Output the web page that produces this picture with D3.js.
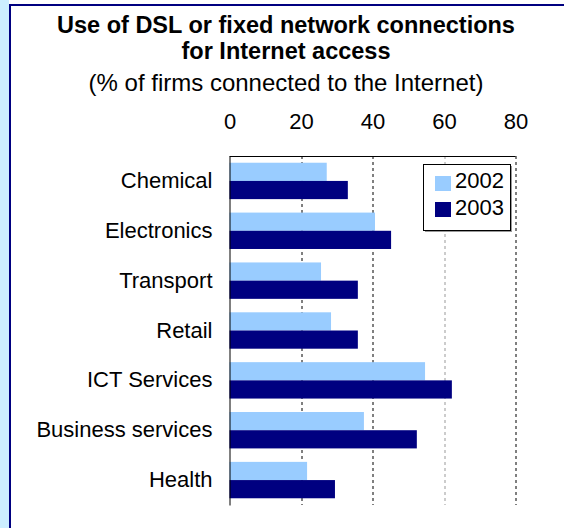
<!DOCTYPE html>
<html>
<head>
<meta charset="utf-8">
<script src="https://cdnjs.cloudflare.com/ajax/libs/d3/7.8.5/d3.min.js"></script>
<style>
  body { margin: 0; background: #fff; }
  text { font-family: "Liberation Sans", Arial, sans-serif; fill: #000; }
</style>
</head>
<body>
<div id="chart"></div>
<script>
// data
var categories = ["Chemical", "Electronics", "Transport", "Retail", "ICT Services", "Business services", "Health"];
var years = ["2002", "2003"];
var values2002 = [27.2, 40.7, 25.6, 28.4, 54.7, 37.6, 21.7];
var values2003 = [33.1, 45.2, 35.9, 35.9, 62.2, 52.4, 29.5];
var xTicks = [0, 20, 40, 60, 80];

var colors = {"2002": "#99ccff", "2003": "#000080"};

var W = 564, H = 528;
var margin = {top: 156, left: 229.5},
    w = 286,
    h = 349;

var data = categories.map(function(c, i) {
  return {cat: c, "2002": values2002[i], "2003": values2003[i]};
});

var svg = d3.select("#chart")
  .append("svg")
  .attr("width", W)
  .attr("height", H);

// page frame: light blue strip + navy border
svg.append("rect").attr("x", 0).attr("y", 0).attr("width", 9).attr("height", H).attr("fill", "#cceeff");
svg.append("line").attr("x1", 10).attr("x2", 10).attr("y1", 4).attr("y2", H)
  .attr("stroke", "#000080").attr("stroke-width", 2);
svg.append("line").attr("x1", 9).attr("x2", W).attr("y1", 5).attr("y2", 5)
  .attr("stroke", "#000080").attr("stroke-width", 2);

// titles
svg.append("text").attr("x", 286).attr("y", 33).attr("text-anchor", "middle")
  .style("font-size", "23.5px").style("font-weight", "bold")
  .text("Use of DSL or fixed network connections");
svg.append("text").attr("x", 286).attr("y", 59).attr("text-anchor", "middle")
  .style("font-size", "23.5px").style("font-weight", "bold")
  .text("for Internet access");
svg.append("text").attr("x", 286).attr("y", 91).attr("text-anchor", "middle")
  .style("font-size", "24px")
  .text("(% of firms connected to the Internet)");

var g = svg.append("g")
  .attr("transform", "translate(" + margin.left + "," + margin.top + ")");

var x = d3.scaleLinear().domain([0, 80]).range([0, w]);

var y = d3.scaleBand()
  .domain(categories)
  .range([0, h])
  .paddingInner(0.27)
  .paddingOuter(0.135);

var ySub = d3.scaleBand()
  .domain(years)
  .range([0, y.bandwidth()]);

// dashed gridlines
g.selectAll(".grid")
  .data(xTicks.filter(function(d) { return d > 0; }))
  .enter()
  .append("line")
  .attr("class", "grid")
  .attr("x1", function(d) { return Math.round(x(d)) + 0.5; })
  .attr("x2", function(d) { return Math.round(x(d)) + 0.5; })
  .attr("y1", 0)
  .attr("y2", h)
  .attr("stroke", function(d) { return d == 60 ? "#999" : "#000"; })
  .attr("stroke-width", 1)
  .attr("stroke-dasharray", "3,3");

// bars
var groups = g.selectAll(".cat")
  .data(data)
  .enter()
  .append("g")
  .attr("class", "cat")
  .attr("transform", function(d) { return "translate(0," + y(d.cat) + ")"; });

groups.selectAll("rect")
  .data(function(d) { return years.map(function(yr) { return {year: yr, value: d[yr]}; }); })
  .enter()
  .append("rect")
  .attr("x", x(0))
  .attr("y", function(d) { return ySub(d.year); })
  .attr("width", function(d) { return x(d.value) - x(0); })
  .attr("height", ySub.bandwidth())
  .attr("fill", function(d) { return colors[d.year]; });

// top axis labels
var xAxis = g.append("g")
  .call(d3.axisTop(x).tickValues(xTicks).tickSize(0).tickPadding(27));
xAxis.select(".domain").remove();
xAxis.selectAll("text").style("font-size", "22px").style("font-family", "Liberation Sans, Arial, sans-serif");

// top border line
g.append("line").attr("x1", 0).attr("x2", w).attr("y1", 0.5).attr("y2", 0.5)
  .attr("stroke", "#000");

// left axis
var yAxis = g.append("g")
  .call(d3.axisLeft(y).tickSize(0).tickPadding(17));
yAxis.select(".domain").attr("stroke", "#000");
yAxis.selectAll("text").style("font-size", "22px").style("font-family", "Liberation Sans, Arial, sans-serif");

// legend
var legend = svg.append("g").attr("transform", "translate(423,164)");
legend.append("rect").attr("x", 2).attr("y", 2).attr("width", 87).attr("height", 66).attr("fill", "#999");
legend.append("rect").attr("x", 0.5).attr("y", 0.5).attr("width", 87).attr("height", 66)
  .attr("fill", "#fff").attr("stroke", "#000");
legend.selectAll(".item")
  .data(years)
  .enter()
  .append("g")
  .attr("class", "item")
  .each(function(d, i) {
    var it = d3.select(this);
    it.append("rect").attr("x", 12).attr("y", 12 + i * 26).attr("width", 16).attr("height", 15)
      .attr("fill", colors[d]);
    it.append("text").attr("x", 32).attr("y", 24 + i * 27)
      .style("font-size", "22px").text(d);
  });
</script>
</body>
</html>
